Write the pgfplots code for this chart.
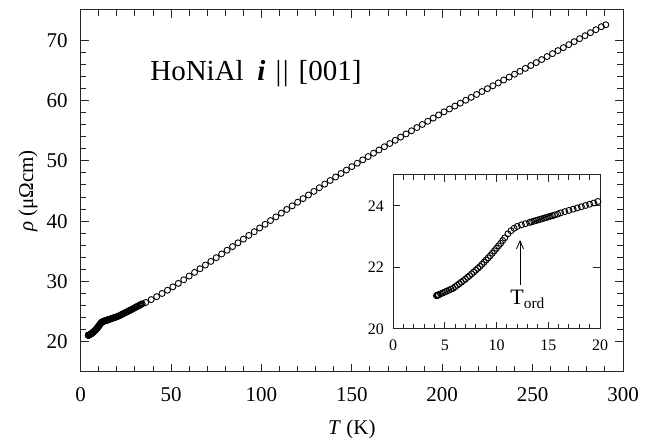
\documentclass[border=0pt]{standalone}
\usepackage{fontspec}
\setmainfont{Liberation Serif}
\usepackage{pgfplots}
\pgfplotsset{compat=1.18}
\usepackage{pgfplotstable}
\usetikzlibrary{arrows.meta}

\pgfplotstableread{
T rho
4.20 21.08
4.25 21.09
4.30 21.10
4.35 21.10
4.40 21.11
4.60 21.14
4.80 21.17
5.00 21.20
5.20 21.23
5.40 21.26
5.60 21.29
5.80 21.32
6.00 21.37
6.20 21.42
6.40 21.47
6.60 21.52
6.80 21.57
7.00 21.62
7.20 21.68
7.40 21.73
7.60 21.79
7.80 21.85
8.00 21.91
8.20 21.97
8.40 22.03
8.60 22.10
8.80 22.17
9.00 22.24
9.20 22.31
9.40 22.38
9.60 22.46
9.80 22.54
10.00 22.62
10.20 22.70
10.40 22.78
10.60 22.87
10.80 22.96
11.10 23.09
11.40 23.19
11.70 23.27
12.00 23.33
12.40 23.38
12.80 23.42
13.20 23.46
13.40 23.48
13.60 23.50
13.80 23.52
14.00 23.54
14.20 23.56
14.40 23.58
14.60 23.60
14.80 23.62
15.00 23.64
15.20 23.66
15.40 23.68
15.60 23.70
15.90 23.73
16.20 23.77
16.60 23.81
17.00 23.85
17.40 23.89
17.80 23.93
18.20 23.97
18.60 24.01
19.00 24.05
19.40 24.09
19.80 24.14
}\lowT

\pgfplotstableread{
T rho
20.5 24.21
21.0 24.28
21.5 24.35
22.0 24.43
22.5 24.50
23.0 24.58
23.5 24.65
24.0 24.73
24.5 24.80
25.0 24.88
25.5 24.96
26.0 25.03
26.5 25.11
27.0 25.19
27.5 25.26
28.0 25.34
28.5 25.42
29.0 25.50
29.5 25.58
30.0 25.66
30.5 25.74
31.0 25.82
31.5 25.90
32.0 25.98
32.5 26.06
33.0 26.14
33.5 26.22
34.0 26.30
}\midT

\pgfplotstableread{
T rho
36 26.52
39 27.00
42 27.49
45 28.01
48 28.55
51 29.11
54 29.69
57 30.29
60 30.90
63 31.51
66 32.12
69 32.73
72 33.33
75 33.95
78 34.56
81 35.18
84 35.79
87 36.41
90 37.02
93 37.64
96 38.25
99 38.87
102 39.48
105 40.10
108 40.71
111 41.33
114 41.94
117 42.54
120 43.14
123 43.74
126 44.34
129 44.94
132 45.54
135 46.14
138 46.74
141 47.32
144 47.90
147 48.47
150 49.04
153 49.60
156 50.16
159 50.71
162 51.26
165 51.80
168 52.34
171 52.87
174 53.40
177 53.93
180 54.46
183 54.98
186 55.51
189 56.03
192 56.56
195 57.08
198 57.60
201 58.12
204 58.60
207 59.08
210 59.56
213 60.04
216 60.52
219 61.00
222 61.48
225 61.96
228 62.44
231 62.92
234 63.40
237 63.88
240 64.36
243 64.84
246 65.32
249 65.80
252 66.28
255 66.78
258 67.28
261 67.77
264 68.27
267 68.76
270 69.26
273 69.75
276 70.25
279 70.74
282 71.24
285 71.73
288 72.23
290.5 72.55
}\highT

\begin{document}
\begin{tikzpicture}
\begin{axis}[
  name=main,
  scale only axis,
  width=271.15pt, height=181pt,
  xmin=0, xmax=300, ymin=15, ymax=75,
  xtick={0,50,...,300}, ytick={20,30,...,70},
  minor x tick num=4, minor y tick num=4,
  /pgf/number format/assume math mode=true,
  ticklabel style={font=\fontsize{10.5}{12}\selectfont},
  xticklabel style={yshift=-4pt},
  yticklabel style={xshift=-3pt},
  major tick length=4pt, minor tick length=2.8pt,
  axis line style={line width=0.5pt, black!85},
  every tick/.style={black!85, line width=0.5pt},
  xlabel={\textit{T} (K)},
  ylabel={\textit{ρ} (μΩcm)},
  label style={font=\fontsize{10.5}{12}\selectfont},
  xlabel style={at={(axis description cs:0.5,-0.160)}, anchor=center},
  ylabel style={at={(axis description cs:-0.0972,0.5)}, anchor=center},
]
\addplot[only marks, mark=o, mark size=1.5pt, black, line width=0.45pt] table[x=T,y=rho]{\lowT};
\addplot[only marks, mark=o, mark size=1.5pt, black, line width=0.45pt] table[x=T,y=rho]{\midT};
\addplot[only marks, mark=o, mark size=1.5pt, black, line width=0.45pt] table[x=T,y=rho]{\highT};
\node[anchor=base west, font=\fontsize{14.5}{17}\selectfont, inner sep=0pt] at (axis cs:38.3,63.3) {HoNiAl};
\node[anchor=base west, font=\fontsize{14.5}{17}\selectfont, inner sep=0pt] at (axis cs:97.5,63.3) {\textbf{\textit{i}}};
\node[anchor=base east, font=\fontsize{14.5}{17}\selectfont, inner sep=0pt] at (axis cs:155.6,63.3) {\textbar\kern0.7pt\textbar\kern5pt[001]};
\coordinate (insetpos) at (rel axis cs:0.5759,0.1188);
\coordinate (sw) at (rel axis cs:0,0);
\coordinate (ne) at (rel axis cs:1,1);
\end{axis}

\begin{axis}[
  at={(insetpos)}, anchor=south west,
  scale only axis,
  width=103.5pt, height=77pt,
  xmin=0, xmax=20, ymin=20, ymax=25,
  xtick={0,5,...,20}, ytick={20,22,24},
  minor x tick num=4, minor y tick num=0,
  axis background/.style={fill=white},
  /pgf/number format/assume math mode=true,
  ticklabel style={font=\fontsize{8}{9.5}\selectfont},
  xticklabel style={yshift=-2pt},
  yticklabel style={xshift=-1pt},
  major tick length=3.5pt, minor tick length=2.5pt,
  axis line style={line width=0.5pt, black!85},
  every tick/.style={black!85, line width=0.5pt},
]
\addplot[only marks, mark=o, mark size=1.5pt, black, line width=0.45pt] table[x=T,y=rho]{\lowT};
\draw[line width=0.4pt, -{Straight Barb[length=4pt,width=3.5pt]}] (axis cs:12.27,21.43) -- (axis cs:12.27,22.89);
\node[anchor=base west, font=\fontsize{11}{13}\selectfont, inner sep=0pt] at (axis cs:11.3,20.78) {T\textsubscript{ord}};
\end{axis}

\pgfresetboundingbox
\path ([shift={(-40.35pt,-33pt)}]sw) rectangle ([shift={(17pt,5pt)}]ne);
\end{tikzpicture}
\end{document}
